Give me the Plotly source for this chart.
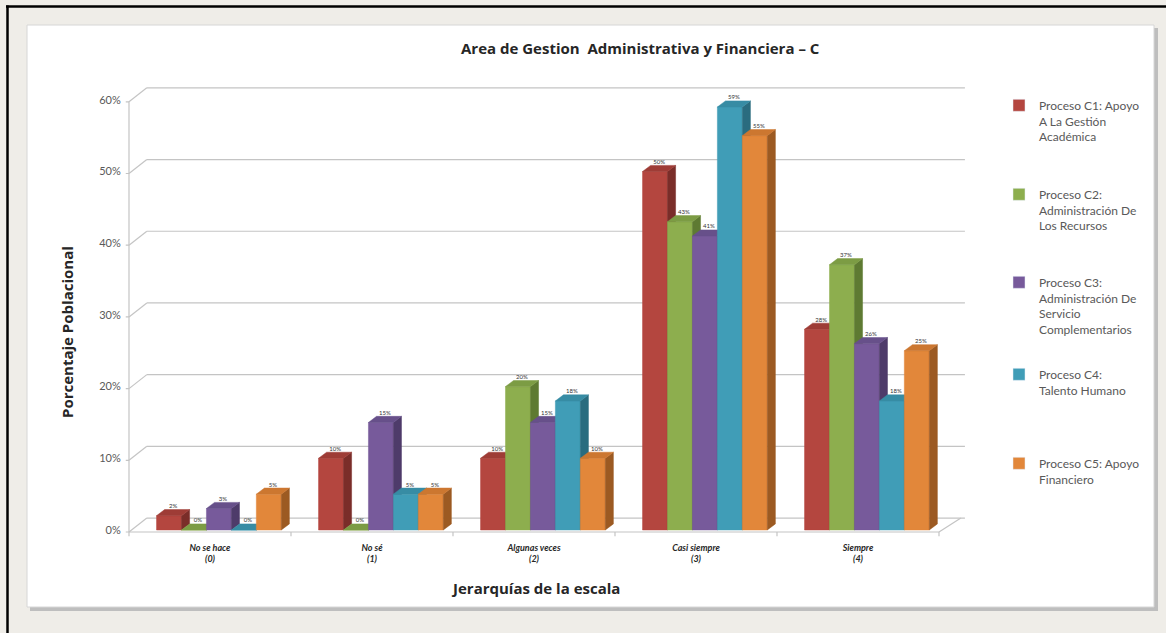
import plotly.graph_objects as go

# ---------------- data ----------------
categories = ["No se hace<br>(0)", "No sé<br>(1)", "Algunas veces<br>(2)", "Casi siempre<br>(3)", "Siempre<br>(4)"]
series_names = [
    "Proceso C1: Apoyo<br>A La Gestión<br>Académica",
    "Proceso C2:<br>Administración De<br>Los Recursos",
    "Proceso C3:<br>Administración De<br>Servicio<br>Complementarios",
    "Proceso C4:<br>Talento Humano",
    "Proceso C5: Apoyo<br>Financiero",
]
c1 = [2, 10, 10, 50, 28]
c2 = [0, 0, 20, 43, 37]
c3 = [3, 15, 15, 41, 26]
c4 = [0, 5, 18, 59, 18]
c5 = [5, 5, 10, 55, 25]
y_ticks = [0, 10, 20, 30, 40, 50, 60]

series_values = [c1, c2, c3, c4, c5]
front_cols = ["#B4463F", "#8DAE4E", "#775A9B", "#409DB7", "#E2873A"]
side_cols = ["#7A2D29", "#5E7A32", "#4E3B6A", "#2A6C7F", "#9C5A22"]
top_cols = ["#9E3C36", "#7C9C44", "#67508A", "#378CA4", "#CC7730"]

# ---------------- geometry (pixels -> paper) ----------------
W, H = 1166, 633
PX_CAT = 162.0      # pixels per category
X0PX = 210.0        # pixel of category 0
PX_PCT = 7.17       # pixels per percent
Y0PX = 530.0        # pixel of 0 %
XR = [-0.52, 4.75]
YR = [-1.5, 62.5]

def px(x):
    return x / W

def py(y):
    return 1 - y / H

xdom = [px(X0PX + PX_CAT * XR[0]), px(X0PX + PX_CAT * XR[1])]
ydom = [py(Y0PX - PX_PCT * YR[0]), py(Y0PX - PX_PCT * YR[1])]

BW = 0.154          # bar width (category units)
GX = 0.055          # bar group shift (depth)
DX = 0.05           # 3D depth x
DY = 0.85           # 3D depth y
BACK_DX = 0.11
BACK_DY = 1.67
FRONT_DY = -0.28

fig = go.Figure()

# ---------------- 3D frame (walls / floor / grid) ----------------
fx, fy = [], []
for v in y_ticks:
    fx += [XR[0] + 0.02 + BACK_DX, 4.66, None]
    fy += [v + BACK_DY, v + BACK_DY, None]
    fx += [-0.5, -0.5 + BACK_DX, None]
    fy += [v + FRONT_DY, v + BACK_DY, None]
    fx += [-0.53, -0.5, None]
    fy += [v + FRONT_DY, v + FRONT_DY, None]
fx += [-0.5, -0.5, None]
fy += [FRONT_DY, y_ticks[-1] + FRONT_DY, None]
fx += [-0.5, 4.5, None]
fy += [FRONT_DY, FRONT_DY, None]
for k in range(len(categories) + 1):
    fx += [-0.5 + k, -0.5 + k, None]
    fy += [FRONT_DY, FRONT_DY - 0.6, None]
fx += [4.5, 4.5 + 0.135, None]
fy += [FRONT_DY, BACK_DY, None]

fig.add_trace(go.Scatter(x=fx, y=fy, mode="lines", line=dict(color="#C4C4C4", width=1.2),
                         hoverinfo="skip", showlegend=False))

# ---------------- 3D bars ----------------
lab_x, lab_y, lab_t = [], [], []
for s, vals in enumerate(series_values):
    frx, fry, sdx, sdy, tpx, tpy = [], [], [], [], [], []
    for i, v in enumerate(vals):
        x0 = i - 2.5 * BW + GX + s * BW
        x1 = x0 + BW
        frx += [x0, x1, x1, x0, x0, None]
        fry += [0, 0, v, v, 0, None]
        sdx += [x1, x1 + DX, x1 + DX, x1, x1, None]
        sdy += [0, DY, v + DY, v, 0, None]
        tpx += [x0, x0 + DX, x1 + DX, x1, x0, None]
        tpy += [v, v + DY, v + DY, v, v, None]
        lab_x.append((x0 + x1) / 2 + DX / 2)
        lab_y.append(v + DY)
        lab_t.append(f"{v}%")
    fig.add_trace(go.Scatter(x=frx, y=fry, mode="lines", fill="toself", fillcolor=front_cols[s],
                             line=dict(color=front_cols[s], width=0.5), hoverinfo="skip", showlegend=False))
    fig.add_trace(go.Scatter(x=sdx, y=sdy, mode="lines", fill="toself", fillcolor=side_cols[s],
                             line=dict(color=side_cols[s], width=0.5), hoverinfo="skip", showlegend=False))
    fig.add_trace(go.Scatter(x=tpx, y=tpy, mode="lines", fill="toself", fillcolor=top_cols[s],
                             line=dict(color=top_cols[s], width=0.5), hoverinfo="skip", showlegend=False))

fig.add_trace(go.Scatter(x=lab_x, y=lab_y, mode="text", text=lab_t, textposition="top center",
                         textfont=dict(family="Lato", size=6, color="#333333"),
                         cliponaxis=False, hoverinfo="skip", showlegend=False))

# ---------------- legends (one per series) ----------------
legend_first_line_px = [101, 190, 278, 370, 459]
legend_keys = ["legend", "legend2", "legend3", "legend4", "legend5"]
for s, name in enumerate(series_names):
    fig.add_trace(go.Bar(x=[None], y=[None], name=name, marker_color=front_cols[s],
                         legend=legend_keys[s], showlegend=True))

layout_legends = {}
for s, key in enumerate(legend_keys):
    layout_legends[key] = dict(
        x=px(999), xanchor="left", y=py(legend_first_line_px[s] - 10), yanchor="top",
        bgcolor="rgba(0,0,0,0)", borderwidth=0, valign="top",
        font=dict(family="Lato", size=12, color="#595959"),
        itemwidth=30, tracegroupgap=0,
    )

# ---------------- background shapes ----------------
shapes = [
    dict(type="rect", xref="paper", yref="paper", x0=px(30), x1=px(1158), y0=py(28), y1=py(611),
         fillcolor="#BEBEBE", line=dict(width=0), layer="below"),
    dict(type="rect", xref="paper", yref="paper", x0=px(27), x1=px(1154), y0=py(25), y1=py(607),
         fillcolor="#FFFFFF", line=dict(color="#D6D6D6", width=1), layer="below"),
    dict(type="line", xref="paper", yref="paper", x0=px(7.5), x1=px(7.5), y0=py(5.5), y1=py(633),
         line=dict(color="#000000", width=2.5), layer="below"),
    dict(type="line", xref="paper", yref="paper", x0=px(6), x1=px(1166), y0=py(6.5), y1=py(6.5),
         line=dict(color="#000000", width=2.5), layer="below"),
]

annotations = [
    dict(text="<b>Area de Gestion  Administrativa y Financiera – C</b>", x=px(640), y=py(48),
         xref="paper", yref="paper", showarrow=False, xanchor="center", yanchor="middle",
         font=dict(family="Open Sans", size=15, color="#262626")),
    dict(text="<b>Porcentaje Poblacional</b>", x=px(67), y=py(332), textangle=-90,
         xref="paper", yref="paper", showarrow=False, xanchor="center", yanchor="middle",
         font=dict(family="Open Sans", size=15, color="#262626")),
    dict(text="<b>Jerarquías de la escala</b>", x=px(535), y=py(588),
         xref="paper", yref="paper", showarrow=False, xanchor="center", yanchor="middle",
         font=dict(family="Open Sans", size=15, color="#262626")),
]

fig.update_layout(
    width=W, height=H,
    margin=dict(l=0, r=0, t=0, b=0),
    paper_bgcolor="#EFEDE8",
    plot_bgcolor="rgba(0,0,0,0)",
    shapes=shapes,
    annotations=annotations,
    barmode="overlay",
    xaxis=dict(domain=xdom, range=XR, tickmode="array", tickvals=list(range(len(categories))),
               ticktext=[f"<b><i>{c}</i></b>" for c in categories],
               tickfont=dict(family="Lato", size=9, color="#262626"),
               showgrid=False, zeroline=False, showline=False, ticks=""),
    yaxis=dict(domain=ydom, range=YR, tickmode="array", tickvals=y_ticks,
               ticktext=[f"{v}%" for v in y_ticks],
               tickfont=dict(family="Lato", size=11, color="#595959"),
               ticklabelstandoff=4,
               showgrid=False, zeroline=False, showline=False, ticks=""),
    **layout_legends,
)

fig.write_html("out.html")
